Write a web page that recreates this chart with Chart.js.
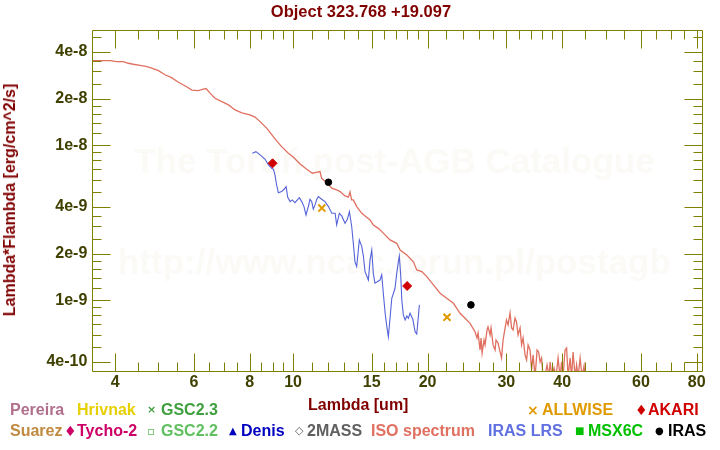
<!DOCTYPE html>
<html><head><meta charset="utf-8">
<script src="https://cdn.jsdelivr.net/npm/chart.js@4/dist/chart.umd.min.js"></script>
<style>
html,body{margin:0;padding:0;background:#fff;}
#wrap{position:relative;width:720px;height:450px;overflow:hidden;font-family:"Liberation Sans",Arial,"DejaVu Sans",sans-serif;font-weight:bold;}
canvas{position:absolute;left:0;top:0;}
.t{position:absolute;white-space:nowrap;font-size:16px;line-height:16px;}
.s{position:absolute;white-space:nowrap;font-family:"DejaVu Sans",sans-serif;font-size:12px;line-height:16px;}
</style></head><body>
<div id="wrap">
<canvas id="c" width="720" height="450"></canvas>
<div class="t" style="left:0;width:722px;text-align:center;top:3px;color:#800000;font-size:16.5px">Object 323.768 +19.097</div>
<div class="t" style="left:10px;top:200px;color:#800000;transform:translate(-50%,-50%) rotate(-90deg)">Lambda*Flambda [erg/cm^2/s]</div>
<div class="t" style="left:308px;top:397px;color:#800000">Lambda [um]</div>

<div class="t" style="left:10px;top:402px;color:#b0708c">Pereira</div>
<div class="t" style="left:77px;top:402px;color:#e6d000">Hrivnak</div>
<div class="s" style="left:147px;top:402px;color:#40a040;font-size:11px">×</div>
<div class="t" style="left:161px;top:402px;color:#40a040">GSC2.3</div>
<div class="s" style="left:527px;top:402px;color:#e09a00;font-size:14px">×</div>
<div class="t" style="left:542px;top:402px;color:#e09a00">ALLWISE</div>
<div class="s" style="left:635px;top:402px;color:#d00000;font-size:14px">♦</div>
<div class="t" style="left:648px;top:402px;color:#d00000">AKARI</div>

<div class="t" style="left:10px;top:423px;color:#c08a40">Suarez</div>
<div class="s" style="left:64px;top:423px;color:#cc0066;font-size:14px">♦</div>
<div class="t" style="left:77px;top:423px;color:#cc0066">Tycho-2</div>
<div class="s" style="left:147px;top:423px;color:#60c060">▫</div>
<div class="t" style="left:161px;top:423px;color:#60c060">GSC2.2</div>
<div class="s" style="left:229px;top:423px;color:#0000c0;font-size:10px">▲</div>
<div class="t" style="left:241px;top:423px;color:#0000c0">Denis</div>
<div class="s" style="left:295px;top:423px;color:#606060;font-size:11px">◇</div>
<div class="t" style="left:307px;top:423px;color:#606060">2MASS</div>
<div class="t" style="left:371px;top:423px;color:#e07060">ISO spectrum</div>
<div class="t" style="left:488px;top:423px;color:#6070e0">IRAS LRS</div>
<div class="s" style="left:575px;top:423px;color:#00c000;font-size:10px">■</div>
<div class="t" style="left:588px;top:423px;color:#00c000">MSX6C</div>
<div class="s" style="left:655px;top:423px;color:#000;font-size:10px">●</div>
<div class="t" style="left:668px;top:423px;color:#000">IRAS</div>
</div>
<script>
// ---- data ----
const isoWave = [3.556,3.70,3.90,4.03,4.17,4.28,4.39,4.55,4.71,4.83,5.00,5.17,5.35,5.54,5.73,5.94,6.14,6.30,6.39,6.52,6.69,6.93,7.17,7.42,7.68,8.01,8.22,8.44,8.73,8.96,9.19,9.43,9.76,10.02,10.37,10.73,11.05,11.20,11.49,11.59,11.89,12.21,12.52,12.74,13.07,13.30,13.41,13.52,13.64,13.88,14.25,14.49,14.87,15.12,15.52,15.92,16.48,17.06,17.36,17.97,18.59,18.91,19.41,19.91,20.61,21.33,22.07,22.84,23.64,24.26,24.89,
  25.54,25.80,25.94,26.20,26.34,26.48,26.75,26.89,27.16,27.30,27.59,27.73,28.02,28.31,28.45,28.75,29.05,29.27,29.50,29.81,30.03,30.27,30.58,30.82,31.06,31.38,31.62,31.87,32.20,32.45,32.70,33.04,33.30,33.56,33.90,34.17,34.43,34.79,35.15,35.42,35.70,35.97,36.25,36.63,37.00,37.38,37.58,37.96,38.36,38.76,39.16,39.57,39.88,40.18,40.60,40.92,41.24,41.66,41.98,42.31,42.75,43.08,43.42,43.87,44.31,44.77,45.00];
const isoFlux = [3.51e-8,3.51e-8,3.51e-8,3.46e-8,3.46e-8,3.38e-8,3.33e-8,3.28e-8,3.21e-8,3.14e-8,3.03e-8,2.85e-8,2.73e-8,2.55e-8,2.42e-8,2.27e-8,2.25e-8,2.30e-8,2.32e-8,2.17e-8,2.01e-8,1.91e-8,1.82e-8,1.69e-8,1.62e-8,1.57e-8,1.52e-8,1.42e-8,1.29e-8,1.17e-8,1.066e-8,9.79e-9,8.88e-9,8.37e-9,7.57e-9,7.00e-9,6.60e-9,6.66e-9,6.76e-9,6.12e-9,5.74e-9,5.28e-9,5.15e-9,5.02e-9,4.71e-9,4.62e-9,5.0e-9,4.44e-9,4.44e-9,4.02e-9,3.64e-9,3.50e-9,3.30e-9,3.06e-9,2.91e-9,2.71e-9,2.45e-9,2.33e-9,2.11e-9,1.96e-9,1.77e-9,1.57e-9,1.53e-9,1.42e-9,1.256e-9,1.11e-9,1.03e-9,9.56e-10,8.24e-10,7.65e-10,7.10e-10,
  6.24e-10,5.71e-10,6.15e-10,4.78e-10,5.71e-10,4.57e-10,5.54e-10,5.15e-10,6.43e-10,6.73e-10,5.97e-10,6.63e-10,5.15e-10,4.78e-10,5.54e-10,5.30e-10,4.64e-10,4.24e-10,5.54e-10,6.63e-10,7.46e-10,6.93e-10,8.28e-10,6.63e-10,6.43e-10,7.69e-10,7.24e-10,5.97e-10,6.63e-10,5.15e-10,5.71e-10,4.44e-10,4.12e-10,5.15e-10,4.78e-10,3.55e-10,4.44e-10,3.2e-10,4.78e-10,4.64e-10,4.00e-10,4.24e-10,3.2e-10,3.3e-10,3.83e-10,3.2e-10,4.00e-10,3.2e-10,3.66e-10,3.2e-10,4.24e-10,3.2e-10,4.00e-10,3.2e-10,4.78e-10,4.92e-10,3.2e-10,4.24e-10,3.2e-10,4.64e-10,3.2e-10,3.83e-10,3.2e-10,4.24e-10,3.2e-10,3.77e-10,3.2e-10];

const lrsWave = [8.11,8.26,8.44,8.66,8.81,8.96,9.04,9.11,9.19,9.27,9.43,9.55,9.65,9.73,9.85,9.96,10.10,10.33,10.46,10.58,10.69,10.82,10.91,11.01,11.10,11.20,11.30,11.39,11.59,11.79,12.00,12.21,12.42,12.52,12.69,12.85,13.07,13.23,13.37,13.53,13.64,13.76,13.88,14.07,14.25,14.37,14.49,14.74,14.87,15.00,15.12,15.25,15.65,15.79,15.92,16.07,16.21,16.34,16.48,16.63,16.91,17.06,17.20,17.29,17.42,17.51,17.65,17.81,17.97,18.11,18.27,18.53,18.75,18.91,19.01,19.17];
const lrsFlux = [8.88e-9,9.09e-9,8.66e-9,8.12e-9,7.46e-9,7.11e-9,7.00e-9,6.43e-9,5.54e-9,4.94e-9,5.02e-9,5.20e-9,5.41e-9,4.62e-9,4.33e-9,4.44e-9,4.26e-9,4.59e-9,4.33e-9,4.02e-9,3.55e-9,4.02e-9,4.48e-9,4.33e-9,3.87e-9,4.12e-9,4.48e-9,4.66e-9,4.48e-9,4.33e-9,4.02e-9,3.64e-9,3.64e-9,3.06e-9,3.64e-9,3.50e-9,3.14e-9,3.33e-9,3.73e-9,2.98e-9,2.33e-9,1.77e-9,1.65e-9,2.45e-9,2.22e-9,1.91e-9,1.53e-9,1.35e-9,1.82e-9,2.11e-9,1.49e-9,1.29e-9,1.35e-9,1.46e-9,1.11e-9,8.24e-10,6.76e-10,5.82e-10,7.65e-10,1.03e-9,1.195e-9,1.49e-9,1.77e-9,1.93e-9,1.42e-9,1.004e-9,8.04e-10,7.46e-10,7.92e-10,7.65e-10,8.24e-10,7.54e-10,6.27e-10,6.06e-10,7.10e-10,9.33e-10];

const akariWave = [9.0, 18.0];
const akariFlux = [7.65e-9, 1.236e-9];
const irasWave = [12.0, 25.0];
const irasFlux = [5.77e-9, 9.33e-10];
const allwiseWave = [11.6, 22.1];
const allwiseFlux = [3.93e-9, 7.77e-10];

const xTickValues = [4,4.5,5,5.5,6,6.5,7,7.5,8,8.5,9,9.5,10,11,12,13,14,15,16,17,18,19,20,22,24,26,28,30,32,34,36,38,40,45,50,55,60,65,70,75,80];
const xLabelValues = [4,6,8,10,15,20,30,40,60,80];
const yTickValues = [4e-10,5e-10,6e-10,7e-10,8e-10,9e-10,1e-9,1.2e-9,1.4e-9,1.6e-9,1.8e-9,2e-9,2.5e-9,3e-9,3.5e-9,4e-9,5e-9,6e-9,7e-9,8e-9,9e-9,1e-8,1.2e-8,1.4e-8,1.6e-8,1.8e-8,2e-8,2.5e-8,3e-8,3.5e-8,4e-8,5e-8];
const yLabelValues = [4e-10,1e-9,2e-9,4e-9,1e-8,2e-8,4e-8];
const yLabelTexts = ['4e-10','1e-9','2e-9','4e-9','1e-8','2e-8','4e-8'];
const watermark = ['The Toruń post-AGB Catalogue','http://www.ncac.torun.pl/postagb'];

const pts = (xs, ys) => xs.map((v,i)=>({x:v, y:ys[i]}));
const FONT = '"Liberation Sans", Arial, sans-serif';
Chart.defaults.font.family = FONT;

const olive = '#808000';
const framePlugin = {
  id: 'frame',
  beforeDatasetsDraw(chart){
    const {ctx, chartArea:a} = chart;
    ctx.save();
    ctx.fillStyle = '#fbfaf6';
    ctx.font = 'bold 35px ' + FONT;
    ctx.textAlign = 'center'; ctx.textBaseline = 'middle';
    const cx = (a.left + a.right)/2 - 3;
    ctx.fillText(watermark[0], cx, 163);
    ctx.fillText(watermark[1], cx, 264);
    ctx.restore();
  },
  afterDatasetsDraw(chart){
    const {ctx, chartArea:a, scales} = chart;
    const L = Math.round(a.left)+0.5, R = Math.round(a.right)-0.5, T = Math.round(a.top)+0.5, B = Math.round(a.bottom)-0.5;
    ctx.save();
    ctx.strokeStyle = olive; ctx.lineWidth = 1;
    ctx.beginPath();
    ctx.rect(L, T, R-L, B-T);
    xTickValues.forEach(v=>{
      const p = Math.round(scales.x.getPixelForValue(v))+0.5;
      const len = xLabelValues.includes(v) ? 18 : 9;
      ctx.moveTo(p, B); ctx.lineTo(p, B-len);
      ctx.moveTo(p, T); ctx.lineTo(p, T+len);
    });
    yTickValues.forEach(v=>{
      const p = Math.round(scales.y.getPixelForValue(v))+0.5;
      const len = yLabelValues.includes(v) ? 18 : 9;
      ctx.moveTo(L, p); ctx.lineTo(L+len, p);
      ctx.moveTo(R, p); ctx.lineTo(R-len, p);
    });
    ctx.stroke();
    ctx.restore();
  }
};

new Chart(document.getElementById('c'), {
  type: 'scatter',
  data: { datasets: [
    { label:'ISO spectrum', data: pts(isoWave, isoFlux), showLine:true, borderColor:'#e07060', borderWidth:1.3, pointRadius:0, clip:0, order:3 },
    { label:'IRAS LRS', data: pts(lrsWave, lrsFlux), showLine:true, borderColor:'#5563d9', borderWidth:1.1, pointRadius:0, clip:0, order:2 },
    { label:'AKARI', data: pts(akariWave, akariFlux), pointStyle:'rectRot', pointRadius:4.5, backgroundColor:'#d00000', borderColor:'#d00000', borderWidth:1, order:1 },
    { label:'IRAS', data: pts(irasWave, irasFlux), pointStyle:'circle', pointRadius:3.3, backgroundColor:'#000', borderColor:'#000', borderWidth:1, order:1 },
    { label:'ALLWISE', data: pts(allwiseWave, allwiseFlux), pointStyle:'crossRot', pointRadius:5, borderColor:'#e09a00', borderWidth:2, order:1 }
  ]},
  options: {
    responsive:false, animation:false, devicePixelRatio:1,
    layout:{ padding:{ left:0, top:29.5, right:17.5, bottom:0 } },
    plugins:{ legend:{display:false}, title:{display:false}, tooltip:{enabled:false} },
    scales:{
      x:{ type:'logarithmic', min:3.556, max:82.4,
        afterBuildTicks(s){ s.ticks = xTickValues.map(v=>({value:v, major:false})); },
        afterFit(s){ s.height = 78.3; },
        grid:{display:false, drawTicks:false}, border:{display:false},
        ticks:{ autoSkip:false, maxRotation:0, padding:1, color:'#404000', font:{size:16, weight:'bold'},
          callback(v){ return xLabelValues.includes(v) ? String(v) : ''; } } },
      y:{ type:'logarithmic', min:3.46e-10, max:5.58e-8,
        afterBuildTicks(s){ s.ticks = yTickValues.map(v=>({value:v, major:false})); },
        afterFit(s){ s.width = 92.3; },
        grid:{display:false, drawTicks:false}, border:{display:false},
        ticks:{ autoSkip:false, padding:5, color:'#404000', font:{size:16, weight:'bold'},
          callback(v){ const i = yLabelValues.indexOf(v); return i>=0 ? yLabelTexts[i] : ''; } } }
    }
  },
  plugins:[framePlugin]
});
</script>
</body></html>
